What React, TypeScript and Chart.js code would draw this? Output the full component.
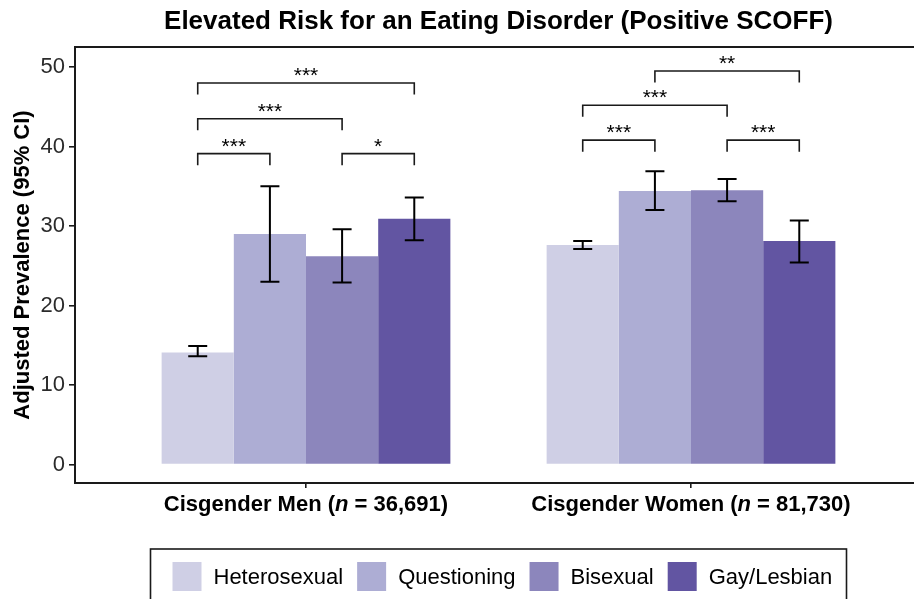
import React, { useEffect, useRef } from "react";
import { Chart, registerables } from "chart.js";

Chart.register(...registerables);

const TITLE = "Elevated Risk for an Eating Disorder (Positive SCOFF)";
const Y_TITLE = "Adjusted Prevalence (95% CI)";
const CATEGORIES = ["Cisgender Men", "Cisgender Women"];
const SAMPLE_SIZES = ["36,691", "81,730"];
const GROUPS = ["Heterosexual", "Questioning", "Bisexual", "Gay/Lesbian"];
const COLORS = ["#CFCFE5", "#ADADD4", "#8C86BC", "#6255A2"];
const Y_TICKS = [0, 10, 20, 30, 40, 50];

// adjusted prevalence per category [men, women]
const HETEROSEXUAL = [14.1, 27.6];
const QUESTIONING = [29.0, 34.4];
const BISEXUAL = [26.2, 34.5];
const GAY_LESBIAN = [30.9, 28.1];

// 95% CI lower / upper bounds
const HETEROSEXUAL_LOW = [13.6, 27.1];
const HETEROSEXUAL_HIGH = [14.9, 28.1];
const QUESTIONING_LOW = [23.0, 32.0];
const QUESTIONING_HIGH = [35.0, 36.9];
const BISEXUAL_LOW = [22.9, 33.1];
const BISEXUAL_HIGH = [29.6, 35.9];
const GAY_LESBIAN_LOW = [28.2, 25.4];
const GAY_LESBIAN_HIGH = [33.6, 30.7];

// significance brackets
const BRACKET_CATEGORY = [0, 0, 0, 0, 1, 1, 1, 1];
const BRACKET_FROM = [0, 0, 0, 2, 0, 0, 1, 2];
const BRACKET_TO = [1, 2, 3, 3, 1, 2, 3, 3];
const BRACKET_Y = [39.1, 43.5, 48.0, 39.1, 40.8, 45.2, 49.5, 40.8];
const BRACKET_LABEL = ["***", "***", "***", "*", "***", "***", "**", "***"];

const SERIES = [HETEROSEXUAL, QUESTIONING, BISEXUAL, GAY_LESBIAN];
const LOWS = [HETEROSEXUAL_LOW, QUESTIONING_LOW, BISEXUAL_LOW, GAY_LESBIAN_LOW];
const HIGHS = [HETEROSEXUAL_HIGH, QUESTIONING_HIGH, BISEXUAL_HIGH, GAY_LESBIAN_HIGH];

const FONT = "'Liberation Sans', Arial, Helvetica, sans-serif";
const INK = "#1a1a1a";

const overlayPlugin = {
  id: "overlay",
  afterDatasetsDraw(chart: any) {
    const { ctx } = chart;
    const yScale = chart.scales.y;
    ctx.save();
    // error bars
    ctx.strokeStyle = "#000";
    ctx.lineWidth = 2;
    chart.data.datasets.forEach((ds: any, i: number) => {
      const meta = chart.getDatasetMeta(i);
      meta.data.forEach((el: any, c: number) => {
        const x = el.x;
        const yl = yScale.getPixelForValue(ds.ciLow[c]);
        const yh = yScale.getPixelForValue(ds.ciHigh[c]);
        const hw = 9.5;
        ctx.beginPath();
        ctx.moveTo(x, yl);
        ctx.lineTo(x, yh);
        ctx.moveTo(x - hw, yl);
        ctx.lineTo(x + hw, yl);
        ctx.moveTo(x - hw, yh);
        ctx.lineTo(x + hw, yh);
        ctx.stroke();
      });
    });
    // brackets
    ctx.strokeStyle = INK;
    ctx.lineWidth = 1.6;
    ctx.fillStyle = "#000";
    ctx.font = `21px ${FONT}`;
    ctx.textAlign = "center";
    ctx.textBaseline = "alphabetic";
    BRACKET_Y.forEach((yv, k) => {
      const c = BRACKET_CATEGORY[k];
      const x1 = chart.getDatasetMeta(BRACKET_FROM[k]).data[c].x;
      const x2 = chart.getDatasetMeta(BRACKET_TO[k]).data[c].x;
      const y = yScale.getPixelForValue(yv);
      const leg = yScale.getPixelForValue(yv - 1.45);
      ctx.beginPath();
      ctx.moveTo(x1, leg);
      ctx.lineTo(x1, y);
      ctx.lineTo(x2, y);
      ctx.lineTo(x2, leg);
      ctx.stroke();
      ctx.fillText(BRACKET_LABEL[k], (x1 + x2) / 2, y - 1);
    });
    ctx.restore();
  },
  afterDraw(chart: any) {
    const { ctx, chartArea } = chart;
    const xScale = chart.scales.x;
    ctx.save();
    // panel border
    ctx.strokeStyle = INK;
    ctx.lineWidth = 2;
    ctx.strokeRect(chartArea.left, chartArea.top, chartArea.right - chartArea.left, chartArea.bottom - chartArea.top);

    // x category labels with italic n
    ctx.fillStyle = "#000";
    ctx.textBaseline = "alphabetic";
    ctx.textAlign = "left";
    CATEGORIES.forEach((cat, i) => {
      const parts = [
        { t: `${cat} (`, f: `bold 22px ${FONT}` },
        { t: "n", f: `italic bold 22px ${FONT}` },
        { t: ` = ${SAMPLE_SIZES[i]})`, f: `bold 22px ${FONT}` },
      ];
      let total = 0;
      parts.forEach((p) => {
        ctx.font = p.f;
        total += ctx.measureText(p.t).width;
      });
      let x = xScale.getPixelForValue(i + 1) - total / 2;
      const y = chartArea.bottom + 28;
      parts.forEach((p) => {
        ctx.font = p.f;
        ctx.fillText(p.t, x, y);
        x += ctx.measureText(p.t).width;
      });
    });

    // legend box
    const center = (chartArea.left + chartArea.right) / 2;
    const boxW = 696;
    const boxL = center - boxW / 2;
    const boxT = chartArea.bottom + 66;
    ctx.lineWidth = 1.6;
    ctx.strokeStyle = INK;
    ctx.strokeRect(boxL, boxT, boxW, 120);
    ctx.font = `22px ${FONT}`;
    ctx.textBaseline = "middle";
    const sq = 29;
    let x = boxL + 22;
    const sqTop = boxT + 13;
    chart.data.datasets.forEach((ds: any) => {
      ctx.fillStyle = ds.backgroundColor;
      ctx.fillRect(x, sqTop, sq, sq);
      x += sq + 12;
      ctx.fillStyle = "#000";
      ctx.fillText(ds.label, x, sqTop + sq / 2 + 1);
      x += ctx.measureText(ds.label).width + 14;
    });
    ctx.restore();
  },
};

export default function App() {
  const ref = useRef<HTMLCanvasElement>(null);
  useEffect(() => {
    if (!ref.current) return;
    const chart = new Chart(ref.current, {
      type: "bar",
      data: {
        datasets: GROUPS.map((g, i) => ({
          label: g,
          data: SERIES[i].map((v, c) => ({ x: c + 1, y: v })),
          backgroundColor: COLORS[i],
          borderWidth: 0,
          ciLow: LOWS[i],
          ciHigh: HIGHS[i],
        })) as any,
      },
      options: {
        responsive: false,
        animation: false,
        devicePixelRatio: 1,
        layout: { padding: { left: 0, top: 0, right: 8, bottom: 0 } },
        datasets: { bar: { categoryPercentage: 0.75, barPercentage: 1 } } as any,
        scales: {
          x: {
            type: "linear",
            offset: false,
            min: 0.4,
            max: 2.6,
            afterBuildTicks: (s: any) => {
              s.ticks = CATEGORIES.map((_, i) => ({ value: i + 1 }));
            },
            afterFit: (s: any) => {
              s.height = 116;
            },
            grid: { display: true, offset: false, drawOnChartArea: false, drawTicks: true, tickLength: 5, color: INK, lineWidth: 1.6 },
            border: { display: false },
            ticks: { display: false },
          },
          y: {
            min: -2.33,
            max: 52.52,
            afterBuildTicks: (s: any) => {
              s.ticks = Y_TICKS.map((v) => ({ value: v }));
            },
            afterFit: (s: any) => {
              s.width = 75;
            },
            grid: { display: true, drawOnChartArea: false, drawTicks: true, tickLength: 6, color: INK, lineWidth: 1.6 },
            border: { display: false },
            ticks: { font: { family: FONT, size: 22 }, color: "#2b2b2b", padding: 4 },
            title: {
              display: true,
              text: Y_TITLE,
              font: { family: FONT, size: 22, weight: "bold" },
              color: "#000",
              padding: { top: 10, bottom: 0 },
            },
          },
        },
        plugins: {
          legend: { display: false },
          tooltip: { enabled: false },
          title: {
            display: true,
            text: TITLE,
            fullSize: false,
            font: { family: FONT, size: 26, weight: "bold" },
            color: "#000",
            padding: { top: 6, bottom: 9.8 },
          },
        },
      } as any,
      plugins: [overlayPlugin],
    });
    return () => chart.destroy();
  }, []);
  return (
    <div style={{ position: "fixed", left: 0, top: 0, width: 914, height: 599, overflow: "hidden", background: "#fff" }}>
      <canvas ref={ref} width={930} height={599} style={{ width: 930, height: 599, display: "block" }} />
    </div>
  );
}
